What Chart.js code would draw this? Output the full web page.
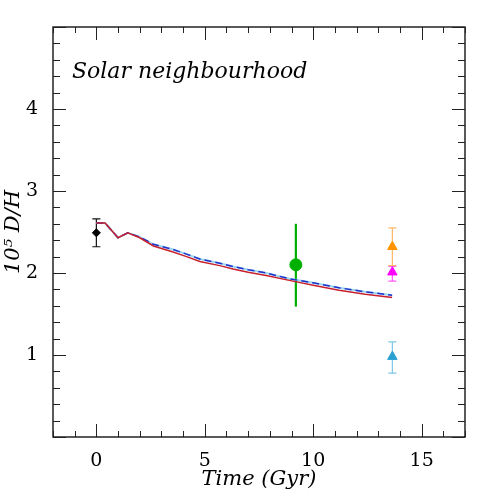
<!DOCTYPE html>
<html>
<head>
<meta charset="utf-8">
<script src="https://cdn.jsdelivr.net/npm/chart.js@4.4.0/dist/chart.umd.min.js"></script>
<style>
html, body { margin: 0; padding: 0; background: #fff; }
</style>
</head>
<body>
<canvas id="chart" width="491" height="491"></canvas>
<script>
// model curves (time in Gyr, 1e5 D/H)
var modelTime = [0, 0.4, 1.0, 1.45, 2.0, 2.63, 3.5, 4.16, 4.77, 5.69, 6.3, 7.0, 7.83, 8.9, 10.0, 11.19, 12.4, 13.64];
var modelRed  = [2.61, 2.61, 2.43, 2.49, 2.43, 2.33, 2.26, 2.20, 2.14, 2.09, 2.05, 2.01, 1.97, 1.91, 1.85, 1.79, 1.74, 1.70];
var modelBlue = [2.61, 2.61, 2.43, 2.49, 2.44, 2.35, 2.29, 2.23, 2.17, 2.12, 2.08, 2.04, 2.00, 1.93, 1.88, 1.82, 1.77, 1.73];

// observations
var solarX = [0],     solarY = [2.49],  solarLo = [2.32], solarHi = [2.66];
var lismX  = [9.2],   lismY  = [2.10],  lismLo  = [1.59], lismHi  = [2.60];
var orangeX = [13.65], orangeY = [2.32], orangeLo = [2.09], orangeHi = [2.55];
var pinkX   = [13.65], pinkY   = [2.01], pinkLo   = [1.90], pinkHi   = [2.08];
var cyanX   = [13.65], cyanY   = [0.98], cyanLo   = [0.78], cyanHi   = [1.16];

var xTicks = [0, 5, 10, 15];
var yTicks = [1, 2, 3, 4];

var FONT = "'DejaVu Serif', serif";

function pts(xs, ys) {
	return xs.map(function(x, i) { return {x: x, y: ys[i]}; });
}

var errorBars = {
	id: 'errorBars',
	beforeDatasetsDraw: function(chart) {
		var ctx = chart.ctx;
		var xs = chart.scales.x, ys = chart.scales.y;
		chart.data.datasets.forEach(function(ds) {
			if (!ds.errLow) return;
			ds.data.forEach(function(p, i) {
				var x = xs.getPixelForValue(p.x);
				var y1 = ys.getPixelForValue(ds.errLow[i]);
				var y2 = ys.getPixelForValue(ds.errHigh[i]);
				ctx.save();
				ctx.strokeStyle = ds.errColor;
				ctx.lineWidth = ds.errWidth;
				ctx.beginPath();
				ctx.moveTo(x, y1);
				ctx.lineTo(x, y2);
				if (ds.capWidth) {
					ctx.moveTo(x - ds.capWidth, y1); ctx.lineTo(x + ds.capWidth, y1);
					ctx.moveTo(x - ds.capWidth, y2); ctx.lineTo(x + ds.capWidth, y2);
				}
				ctx.stroke();
				ctx.restore();
			});
		});
	}
};

var frame = {
	id: 'frame',
	afterDraw: function(chart) {
		var ctx = chart.ctx, a = chart.chartArea;
		var xs = chart.scales.x, ys = chart.scales.y;
		ctx.save();
		ctx.strokeStyle = '#000';
		ctx.lineWidth = 1.3;
		ctx.strokeRect(a.left, a.top, a.right - a.left, a.bottom - a.top);
		ctx.lineWidth = 1;
		ctx.strokeStyle = '#222';
		ctx.beginPath();
		for (var t = -2; t <= 17; t++) {
			var px = Math.round(xs.getPixelForValue(t)) + 0.5;
			var len = (t % 5 === 0) ? 13 : 6;
			ctx.moveTo(px, a.bottom); ctx.lineTo(px, a.bottom - len);
			ctx.moveTo(px, a.top); ctx.lineTo(px, a.top + len);
		}
		for (var k = 0; k <= 25; k++) {
			var v = k * 0.2;
			var py = Math.round(ys.getPixelForValue(v)) + 0.5;
			var l2 = (k % 5 === 0) ? 13 : 7;
			ctx.moveTo(a.left, py); ctx.lineTo(a.left + l2, py);
			ctx.moveTo(a.right, py); ctx.lineTo(a.right - l2, py);
		}
		ctx.stroke();
		ctx.fillStyle = '#000';
		ctx.font = "italic 22px " + FONT;
		ctx.textBaseline = 'alphabetic';
		ctx.fillText('Solar neighbourhood', 72, 78);
		ctx.restore();
	}
};

new Chart(document.getElementById('chart'), {
	type: 'scatter',
	data: {
		datasets: [
			{ data: pts(solarX, solarY), pointStyle: 'rectRot', pointRadius: 4, backgroundColor: '#000', borderColor: '#000',
			  errLow: solarLo, errHigh: solarHi, errColor: '#111', errWidth: 1.2, capWidth: 4 },
			{ data: pts(lismX, lismY), pointStyle: 'circle', pointRadius: 6, backgroundColor: '#00b000', borderColor: '#00b000',
			  errLow: lismLo, errHigh: lismHi, errColor: '#00b000', errWidth: 2.2, capWidth: 0 },
			{ data: pts(pinkX, pinkY), pointStyle: 'triangle', pointRadius: 5.5, backgroundColor: '#ff00ff', borderColor: '#ff00ff',
			  errLow: pinkLo, errHigh: pinkHi, errColor: '#ff55ff', errWidth: 1.2, capWidth: 4 },
			{ data: pts(orangeX, orangeY), pointStyle: 'triangle', pointRadius: 5.5, backgroundColor: '#ff9400', borderColor: '#ff9400',
			  errLow: orangeLo, errHigh: orangeHi, errColor: '#ffb868', errWidth: 1.2, capWidth: 4 },
			{ data: pts(cyanX, cyanY), pointStyle: 'triangle', pointRadius: 5.5, backgroundColor: '#2aa0d2', borderColor: '#2aa0d2',
			  errLow: cyanLo, errHigh: cyanHi, errColor: '#7cc6e6', errWidth: 1.2, capWidth: 4 },
			{ data: pts(modelTime, modelRed), showLine: true, pointRadius: 0, borderColor: '#c8202c', borderWidth: 1.5, tension: 0 },
			{ data: pts(modelTime, modelBlue), showLine: true, pointRadius: 0, borderColor: '#2030cc', borderWidth: 1.5, borderDash: [7, 4], tension: 0 },
			{ data: pts(modelTime, modelBlue), showLine: true, pointRadius: 0, borderColor: '#9ad6f0', borderWidth: 2, tension: 0 }
		]
	},
	options: {
		responsive: false,
		animation: false,
		layout: { padding: { left: 0, right: 26, top: 27, bottom: 0 } },
		plugins: { legend: { display: false }, tooltip: { enabled: false } },
		scales: {
			x: {
				type: 'linear', min: -2, max: 17,
				grid: { display: false }, border: { display: false },
				afterBuildTicks: function(scale) { scale.ticks = xTicks.map(function(v) { return {value: v}; }); },
				afterFit: function(scale) { scale.height = 54; },
				ticks: { color: '#000', font: { family: FONT, size: 19 }, padding: 5, maxRotation: 0 },
				title: { display: true, text: 'Time (Gyr)', color: '#000', font: { family: FONT, size: 21, style: 'italic' }, padding: { top: 0, bottom: -1 } }
			},
			y: {
				type: 'linear', min: 0, max: 5,
				grid: { display: false }, border: { display: false },
				afterBuildTicks: function(scale) { scale.ticks = yTicks.map(function(v) { return {value: v}; }); },
				afterFit: function(scale) { scale.width = 53; },
				ticks: { color: '#000', font: { family: FONT, size: 19 }, padding: 7 },
				title: { display: true, text: '10\u2075 D/H', color: '#000', font: { family: FONT, size: 21, style: 'italic' }, padding: { top: 1, bottom: 0 } }
			}
		}
	},
	plugins: [errorBars, frame]
});
</script>
</body>
</html>
